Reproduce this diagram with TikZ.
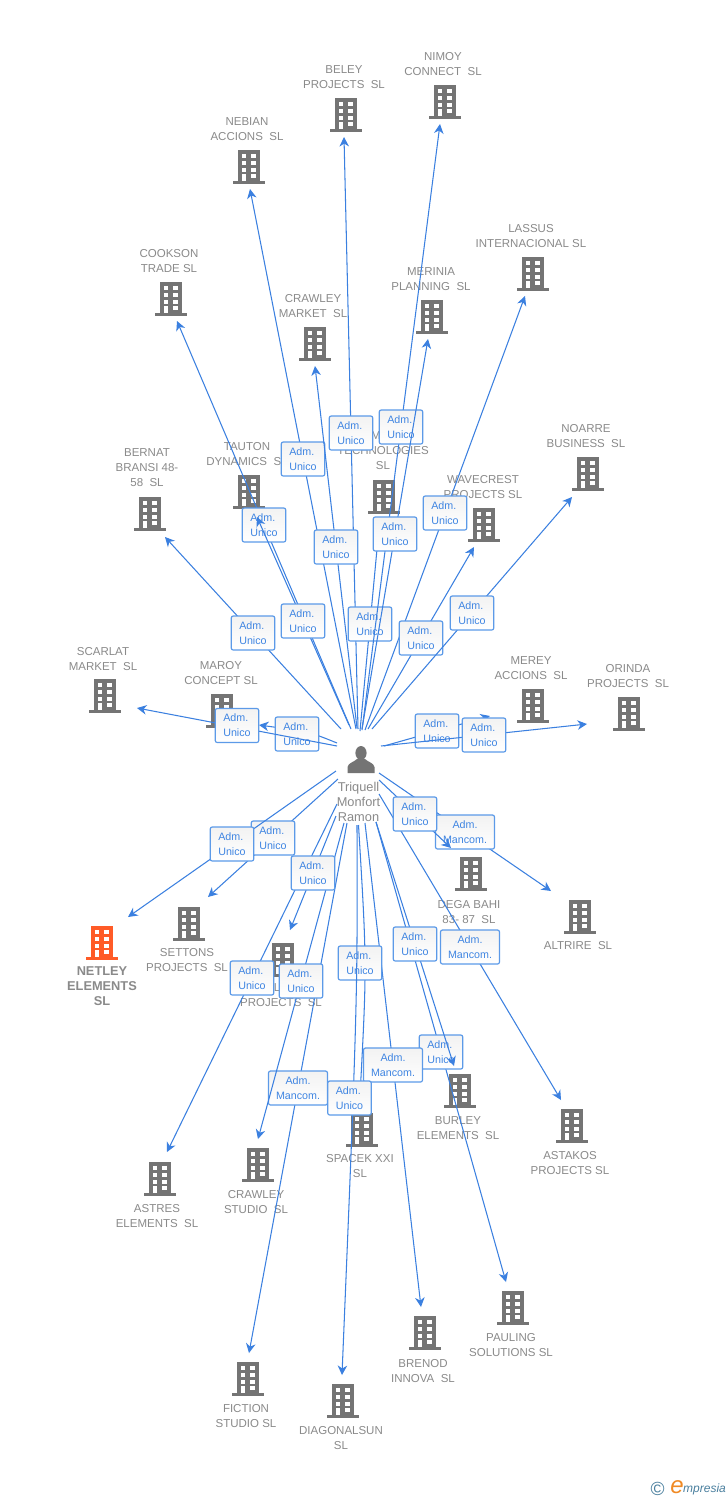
\documentclass[tikz,border=0pt]{standalone}
\usepackage{fontspec}
\setmainfont{Liberation Sans}
\usetikzlibrary{arrows.meta}
\definecolor{iconc}{HTML}{747474}
\definecolor{txtc}{HTML}{8A8A8A}
\definecolor{linec}{HTML}{3B80E0}
\definecolor{boxc}{HTML}{5C9AE8}
\definecolor{labc}{HTML}{3F85E2}
\definecolor{hot}{HTML}{FF5B27}
\definecolor{logob}{HTML}{4A7F9E}
\definecolor{logoo}{HTML}{F08A24}
\tikzset{
  conn/.style={draw=linec,line width=1.05pt,-{Stealth[length=9.5pt,width=9.5pt,inset=3pt]}},
  lab/.style={draw=boxc,line width=1.2pt,rounded corners=2pt,top color=white!95!black,bottom color=white,
    text=labc,font=\fontsize{10.7}{15}\selectfont,align=left,inner xsep=0pt,inner ysep=0pt,
    minimum width=43.5pt,minimum height=34pt},
  labm/.style={lab,align=center,minimum width=59pt},
  coname/.style={text=txtc,font=\fontsize{11.5}{15}\selectfont,align=center,inner sep=0pt},
  hotname/.style={coname,font=\fontsize{12.8}{15}\selectfont\bfseries},
  who/.style={coname,font=\fontsize{12.8}{15}\selectfont}
}
% building icon: colour, x, y
\newcommand{\bld}[3]{%
  \begin{scope}[shift={(#2,#3)}]
    \fill[#1] (-11,-16.7) rectangle (11,15);
    \fill[#1] (-16,14.4) rectangle (16,17);
    \foreach \ya/\yb in {-12.7/-8.7,-6/-2,0.7/4.7}{
      \fill[white] (-7.2,\ya) rectangle (-2.8,\yb);
      \fill[white] (2.4,\ya) rectangle (7.2,\yb);}
    \fill[white] (2.4,6.9) rectangle (7.2,10.9);
    \fill[white] (-7,6.9) rectangle (-2.8,14.4);
  \end{scope}}
% connector: id, start, tip
\newcommand{\edgeU}[3]{%
  \coordinate (s#1) at (#2);\coordinate (t#1) at (#3);
  \draw[conn] (s#1) -- node[lab] (l#1) {Adm.\\Unico} (t#1);}
\newcommand{\edgeM}[3]{%
  \coordinate (s#1) at (#2);\coordinate (t#1) at (#3);
  \draw[conn] (s#1) -- node[labm] (l#1) {Adm.\\Mancom.} (t#1);}
\begin{document}
\begin{tikzpicture}[x=1pt,y=-1pt]
\useasboundingbox (0,0) rectangle (728,1500);
\fill[white] (0,0) rectangle (728,1500);
% buildings
\foreach \x/\y in {346/115,445/102,249/167,533/274,171/299,432/317,315/344,588/474,249/492,384/497,150/514,484/525,105/696,222/711,533/706,629/714,471/874,580/917,189/924,283/960,460/1091,572/1126,362/1130,160/1179,258/1165,248/1379,343/1401,513/1308,425/1333}{\bld{iconc}{\x}{\y}}
\bld{hot}{102}{943}
% names
\node[coname] (n1) at (344,77) {BELEY\\PROJECTS~~SL};
\node[coname] (n2) at (443,64) {NIMOY\\CONNECT~~SL};
\node[coname] (n3) at (247,129) {NEBIAN\\ACCIONS~~SL};
\node[coname] (n4) at (531,236) {LASSUS\\INTERNACIONAL SL};
\node[coname] (n5) at (169,261) {COOKSON\\TRADE SL};
\node[coname] (n6) at (431,279) {MERINIA\\PLANNING~~SL};
\node[coname] (n7) at (313,306) {CRAWLEY\\MARKET~~SL};
\node[coname] (n8) at (586,436) {NOARRE\\BUSINESS~~SL};
\node[coname] (n9) at (247,454) {TAUTON\\DYNAMICS~~SL};
\node[coname] (n10a) at (376,436) {M};
\node[coname] (n10) at (383,458.5) {TECHNOLOGIES\\SL};
\node[coname] (n11) at (147,468) {BERNAT\\BRANSI 48-\\58~~SL};
\node[coname] (n12) at (483,487) {WAVECREST\\PROJECTS SL};
\node[coname] (n13) at (103,659) {SCARLAT\\MARKET~~SL};
\node[coname] (n14) at (221,673) {MAROY\\CONCEPT SL};
\node[coname] (n15) at (531,668) {MEREY\\ACCIONS~~SL};
\node[coname] (n16) at (628,676) {ORINDA\\PROJECTS~~SL};
\node[coname] (n17) at (469,912) {DEGA BAHI\\83- 87~~SL};
\node[coname] (n18) at (578,946) {ALTRIRE~~SL};
\node[coname] (n19) at (187,960) {SETTONS\\PROJECTS~~SL};
\node[hotname] (n20) at (102,986) {NETLEY\\ELEMENTS\\SL};
\node[coname] (n21a) at (277,988) {L};
\node[coname] (n21) at (281,1003) {PROJECTS~~SL};
\node[coname] (n22) at (458,1128) {BURLEY\\ELEMENTS~~SL};
\node[coname] (n23) at (570,1163) {ASTAKOS\\PROJECTS SL};
\node[coname] (n24) at (360,1166) {SPACEK XXI\\SL};
\node[coname] (n25) at (157,1216) {ASTRES\\ELEMENTS~~SL};
\node[coname] (n26) at (256,1202) {CRAWLEY\\STUDIO~~SL};
\node[coname] (n27) at (246,1416) {FICTION\\STUDIO SL};
\node[coname] (n28) at (341,1438) {DIAGONALSUN\\SL};
\node[coname] (n29) at (511,1345) {PAULING\\SOLUTIONS SL};
\node[coname] (n30) at (423,1371) {BRENOD\\INNOVA~~SL};
% person
\fill[iconc] (361,753) ellipse (5.6 and 7);
\fill[iconc] (347.5,773) -- (347.5,767) .. controls (348,763) and (354,762) .. (357,759) -- (365,759) .. controls (368,762) and (374,763) .. (374.5,767) -- (374.5,773) -- cycle;
\node[who] (person) at (358.5,802) {Triquell\\Monfort\\Ramon};
% connectors and their labels (later ones lie on earlier ones)
\edgeU{1}{351,729}{177,321}
\edgeU{2}{349,725}{257,517}
\edgeU{3}{341,729}{165,537}
\edgeU{4}{356,729}{250,189}
\edgeU{5}{358,729}{344,137}
\edgeU{6}{357,728}{315,366}
\edgeU{7}{360,731}{380,517}
\edgeU{8}{365,730}{525,296}
\edgeU{9}{362,730}{440,124}
\edgeU{10}{362,729}{428,339}
\edgeU{11}{368,729}{474,547}
\edgeU{12}{372,729}{572,497}
% Maroy: slightly bowed line
\coordinate (s13) at (337,743);\coordinate (c13) at (310,732);\coordinate (t13) at (259,725);
\draw[conn] (s13) .. controls (c13) .. (t13);
\node[lab] (l13) at (297,734) {Adm.\\Unico};
\coordinate (s14) at (337,746);\coordinate (t14) at (137,708);
\draw[conn] (s14) -- (t14);
\node[lab] (l14) at (237,725.5) {Adm.\\Unico};
\edgeU{15}{384,746}{490,716}
\edgeU{16}{381,746}{587,724}
\edgeM{17}{379,773}{551,891}
\edgeM{18}{379,794}{561,1100}
\edgeU{19}{379,780}{451,848}
\edgeU{20}{376,822}{506,1282}
\edgeU{21}{376,822}{454,1066}
\edgeM{22}{365,823}{421,1307}
% Spacek and Diagonalsun: slightly bowed lines
\coordinate (s23) at (358.5,825);\coordinate (c23) at (367,965);\coordinate (t23) at (359.5,1105);
\draw[conn] (s23) .. controls (c23) .. (t23);
\node[lab] (l23) at (360,963) {Adm.\\Unico};
\edgeM{24}{347,823}{249,1353}
\coordinate (s25) at (357,825);\coordinate (c25) at (357.5,1000);\coordinate (t25) at (342,1375);
\draw[conn] (s25) .. controls (c25) .. (t25);
\node[lab] (l25) at (349.5,1098) {Adm.\\Unico};
\edgeU{26}{344,823}{258,1139}
\edgeU{27}{337,804}{167,1152}
\edgeU{28}{336,816}{290,930}
\edgeU{29}{338,779}{208,897}
\edgeU{30}{336,771}{128,917}
% logo
\node[inner sep=0pt,text=logob,font=\fontsize{19}{19}\selectfont] (logoc) at (657.5,1489) {©};
\node[inner sep=0pt,text=logoo,font=\fontsize{24}{24}\selectfont\itshape] (logoe) at (677,1487) {e};
\node[inner sep=0pt,anchor=west,text=logob,font=\fontsize{12}{12}\selectfont\itshape] (logot) at (683,1489) {mpresia};
\end{tikzpicture}
\end{document}
